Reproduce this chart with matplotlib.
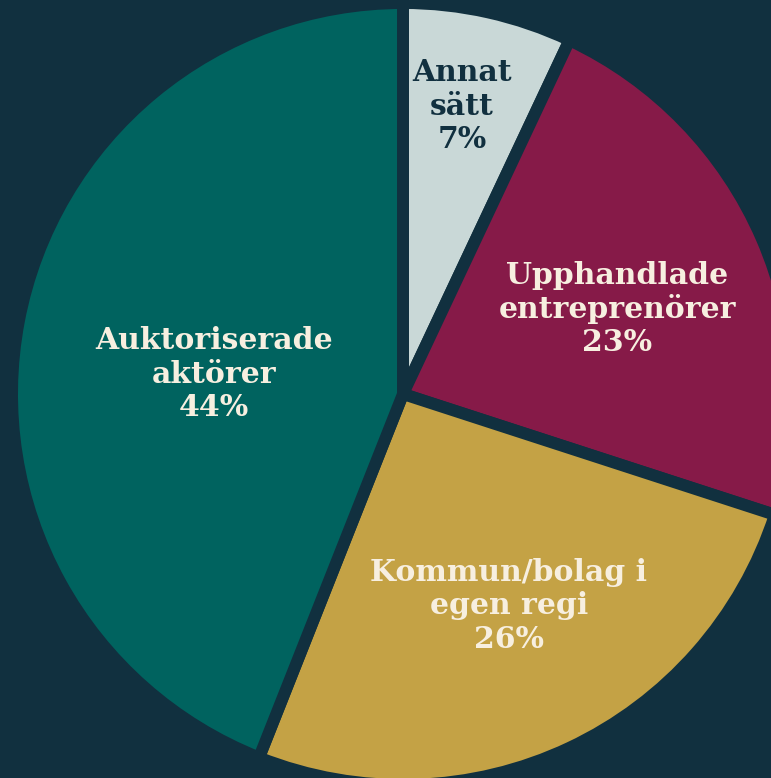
import matplotlib.pyplot as plt

labels = ["Annat\nsätt", "Upphandlade\nentreprenörer", "Kommun/bolag i\negen regi", "Auktoriserade\naktörer"]
shares = [7, 23, 26, 44]
colors = ["#c9d8d7", "#861a48", "#c4a245", "#00635f"]
text_colors = ["#11303f", "#f7efe0", "#f7efe0", "#f7efe0"]
# label centres in pixels (x from left, y from top)
label_pos = [(462, 106), (617, 309), (509, 606), (214, 374)]

bg = "#11303f"
W, H = 771, 778

fig = plt.figure(figsize=(W / 100, H / 100), dpi=100, facecolor=bg)
ax = fig.add_axes([0, 0, 1, 1])
ax.set_facecolor(bg)

ax.pie(shares, colors=colors, startangle=90, counterclock=False,
       center=(403, -394), radius=391,
       wedgeprops=dict(edgecolor=bg, linewidth=8.6))

for lab, s, c, (x, y) in zip(labels, shares, text_colors, label_pos):
    ax.text(x, -y, f"{lab}\n{s}%", ha="center", va="center", color=c,
            fontsize=21.5, fontweight="bold", family="DejaVu Serif",
            linespacing=1.18)

ax.set_xlim(0, W)
ax.set_ylim(-H, 0)
ax.set_aspect("equal")
ax.axis("off")

fig.savefig("out.png", dpi=100, facecolor=bg)
